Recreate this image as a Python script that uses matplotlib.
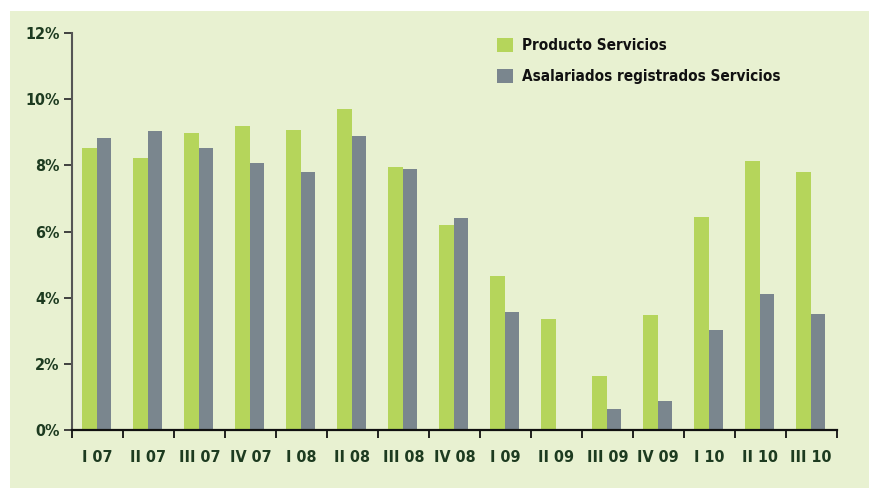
import matplotlib
matplotlib.use("Agg")
import matplotlib.pyplot as plt
from matplotlib.patches import Rectangle, Patch
import numpy as np

categories = ["I 07", "II 07", "III 07", "IV 07", "I 08", "II 08", "III 08", "IV 08",
              "I 09", "II 09", "III 09", "IV 09", "I 10", "II 10", "III 10"]
producto = [8.52, 8.22, 8.97, 9.18, 9.06, 9.69, 7.95, 6.20, 4.66, 3.36, 1.64, 3.48, 6.44, 8.13, 7.80]
asalariados = [8.82, 9.03, 8.52, 8.07, 7.80, 8.88, 7.89, 6.42, 3.57, 0.04, 0.64, 0.88, 3.03, 4.12, 3.52]
yticks = [0, 2, 4, 6, 8, 10, 12]
ytick_labels = ["0%", "2%", "4%", "6%", "8%", "10%", "12%"]
legend_labels = ["Producto Servicios", "Asalariados registrados Servicios"]

green = "#b5d55b"
gray = "#7a868e"
bg = "#e8f1d1"
txt = "#1d3b20"

plt.rcParams["font.family"] = ["DejaVu Sans"]
plt.rcParams["font.stretch"] = "condensed"
plt.rcParams["font.weight"] = "bold"

fig = plt.figure(figsize=(8.69, 4.88), dpi=100)
fig.patch.set_facecolor("white")
fig.patches.append(Rectangle((10 / 869, 0), 1, 1 - 11 / 488, transform=fig.transFigure,
                             facecolor=bg, edgecolor="none", zorder=-5))

ax = fig.add_axes([72 / 869, (488 - 430.3) / 488, (836.7 - 72) / 869, (430.3 - 32.7) / 488])
ax.set_facecolor("none")
ax.set_zorder(2)

x = np.arange(len(categories))
ax.bar(x - 0.30, producto, width=0.29, align="edge", color=green, zorder=2)
ax.bar(x - 0.01, asalariados, width=0.28, align="edge", color=gray, zorder=2)

ax.set_xlim(-0.5, len(categories) - 0.5)
ax.set_ylim(0, 12)

for s in ["top", "right"]:
    ax.spines[s].set_visible(False)
ax.spines["left"].set_color("#555555")
ax.spines["left"].set_linewidth(1.5)
ax.spines["bottom"].set_color("#111111")
ax.spines["bottom"].set_linewidth(1.6)

ax.set_yticks(yticks)
ax.set_yticklabels(ytick_labels)
ax.tick_params(axis="y", direction="out", length=6, width=1.3, color="#333333",
               labelsize=11.5, labelcolor=txt, pad=3)

ax.set_xticks(np.arange(len(categories) + 1) - 0.5)
ax.set_xticklabels([])
ax.set_xticks(x, minor=True)
ax.set_xticklabels(categories, minor=True)
ax.tick_params(axis="x", which="major", direction="out", length=6, width=1.3, color="#111111")
ax.tick_params(axis="x", which="minor", length=0, labelsize=11.5, labelcolor=txt, pad=14)

handles = [Patch(facecolor=green, edgecolor="none"), Patch(facecolor=gray, edgecolor="none")]
leg = fig.legend(handles, legend_labels, loc="upper left",
                 bbox_to_anchor=(497 / 869, 1 - 38 / 488), bbox_transform=fig.transFigure,
                 frameon=False, borderpad=0, borderaxespad=0, handlelength=1.05,
                 handleheight=1.05, handletextpad=0.6, labelspacing=1.0,
                 prop={"family": "DejaVu Sans", "stretch": "condensed", "weight": "bold", "size": 11})
for t in leg.get_texts():
    t.set_color("#111111")

fig.savefig("out.png", dpi=100, facecolor=fig.get_facecolor())
